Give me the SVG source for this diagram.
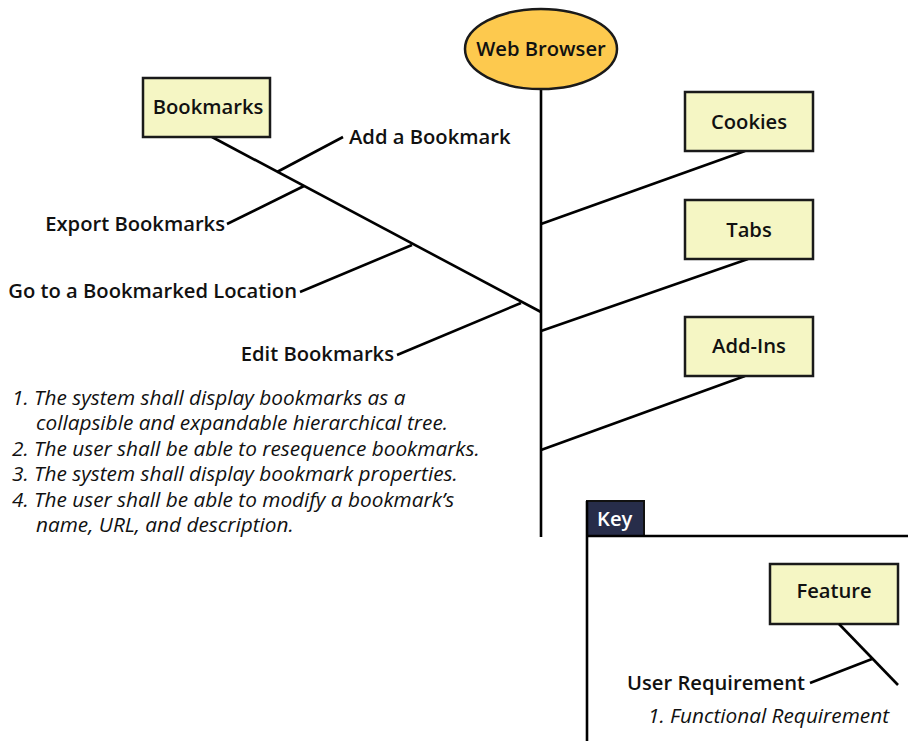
<svg xmlns="http://www.w3.org/2000/svg" width="908" height="741" viewBox="0 0 908 741">
<style>
.box{fill:#F5F6C4;stroke:#1a1a1a;stroke-width:2.5}
.ln{stroke:#000;stroke-width:2.6;fill:none;stroke-linecap:butt}
.lbl{font-family:"Open Sans","Noto Sans",sans-serif;font-weight:600;font-size:20.2px;fill:#111}
.req{font-family:"Open Sans","Noto Sans",sans-serif;font-style:italic;font-size:20.8px;fill:#111}
.c{text-anchor:middle}
.e{text-anchor:end}
</style>
<rect width="908" height="741" fill="#fff"/>
<g id="connectors">
<line class="ln" x1="541" y1="89" x2="541" y2="537"/>
<line class="ln" x1="212" y1="137" x2="541" y2="312"/>
<line class="ln" x1="277" y1="172" x2="343" y2="137"/>
<line class="ln" x1="227" y1="224" x2="304" y2="186"/>
<line class="ln" x1="300" y1="292" x2="412" y2="245"/>
<line class="ln" x1="397" y1="355" x2="521" y2="303"/>
<line class="ln" x1="745" y1="151" x2="541" y2="224"/>
<line class="ln" x1="748" y1="259" x2="541" y2="331"/>
<line class="ln" x1="745" y1="376" x2="541" y2="450"/>
</g>
<g id="web-browser">
<ellipse cx="541" cy="49" rx="76" ry="40" fill="#FDC94E" stroke="#1a1a1a" stroke-width="2.5"/>
<text class="lbl c" x="541" y="56">Web Browser</text>
</g>
<g id="bookmarks">
<rect class="box" x="143" y="78" width="127" height="59"/>
<text class="lbl c" x="208" y="114">Bookmarks</text>
</g>
<g id="add-bookmark"><text class="lbl" x="349" y="144">Add a Bookmark</text></g>
<g id="export-bookmarks"><text class="lbl e" x="225" y="231">Export Bookmarks</text></g>
<g id="go-to-bookmarked"><text class="lbl e" x="297" y="298">Go to a Bookmarked Location</text></g>
<g id="edit-bookmarks"><text class="lbl e" x="394" y="361">Edit Bookmarks</text></g>
<g id="cookies">
<rect class="box" x="685" y="92" width="128" height="59"/>
<text class="lbl c" x="749" y="129">Cookies</text>
</g>
<g id="tabs">
<rect class="box" x="685" y="200" width="128" height="59"/>
<text class="lbl c" x="749" y="237">Tabs</text>
</g>
<g id="add-ins">
<rect class="box" x="685" y="317" width="128" height="59"/>
<text class="lbl c" x="749" y="353">Add-Ins</text>
</g>
<g id="requirements">
<text class="req" x="12" y="405">1. The system shall display bookmarks as a</text>
<text class="req" x="36" y="430">collapsible and expandable hierarchical tree.</text>
<text class="req" x="12" y="456">2. The user shall be able to resequence bookmarks.</text>
<text class="req" x="12" y="481">3. The system shall display bookmark properties.</text>
<text class="req" x="12" y="507">4. The user shall be able to modify a bookmark’s</text>
<text class="req" x="36" y="532">name, URL, and description.</text>
</g>
<g id="key">
<rect x="587" y="501" width="57" height="35" fill="#272D4A" stroke="#111" stroke-width="2"/>
<text class="lbl" x="597" y="526" style="fill:#fff">Key</text>
<line class="ln" x1="587" y1="536" x2="908" y2="536"/>
<line class="ln" x1="587" y1="501" x2="587" y2="741"/>
<g id="key-feature">
<rect class="box" x="770" y="564" width="128" height="60"/>
<text class="lbl c" x="834" y="598">Feature</text>
</g>
<line class="ln" x1="839" y1="624" x2="898" y2="685"/>
<line class="ln" x1="810" y1="683" x2="872" y2="659"/>
<text class="lbl e" x="805" y="690">User Requirement</text>
<text class="req" x="648" y="723">1. Functional Requirement</text>
</g>
</svg>
